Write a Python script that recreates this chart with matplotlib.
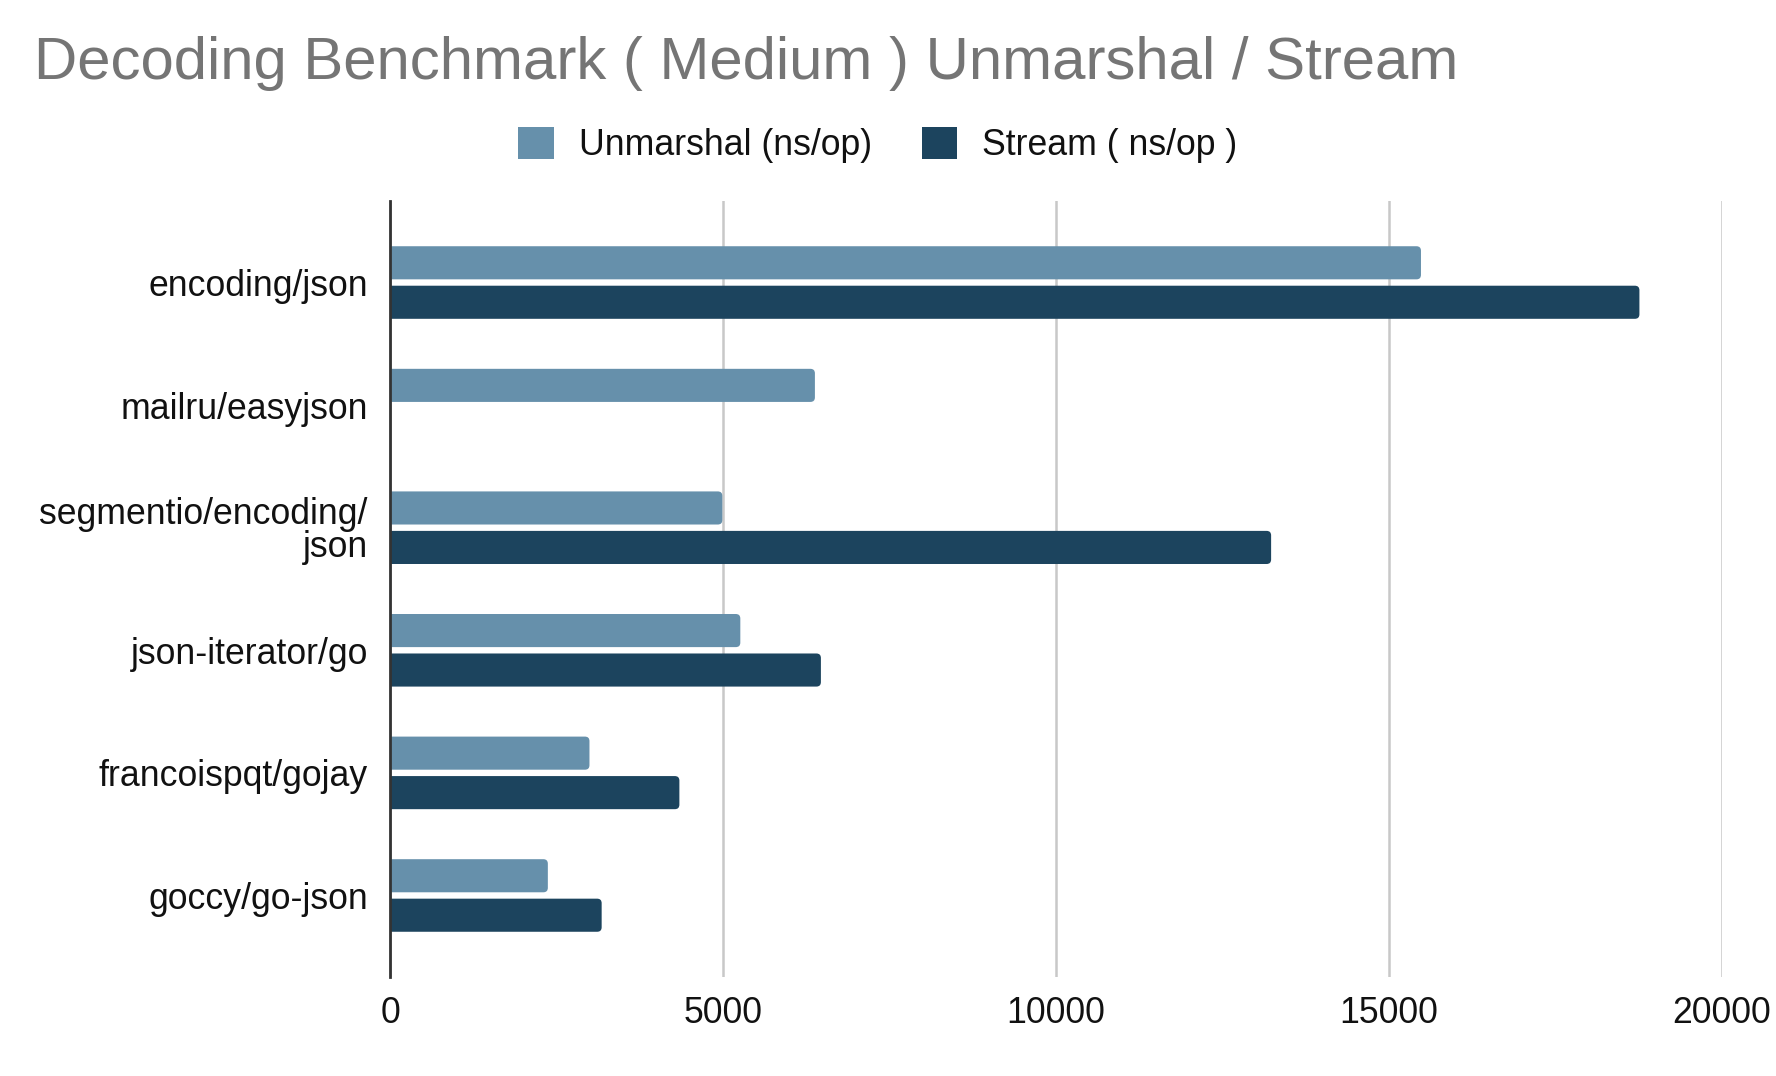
import matplotlib
matplotlib.use("Agg")
import matplotlib.pyplot as plt
from matplotlib.patches import FancyBboxPatch, Patch
import numpy as np

plt.rcParams['font.family'] = ['Liberation Sans', 'DejaVu Sans']

libraries = ['encoding/json', 'mailru/easyjson', 'segmentio/encoding/\njson',
             'json-iterator/go', 'francoispqt/gojay', 'goccy/go-json']
unmarshal_ns = [15480, 6380, 4990, 5260, 2995, 2370]
stream_ns = [18760, 0, 13230, 6470, 4345, 3178]
xticks = [0, 5000, 10000, 15000, 20000]

LIGHT = '#6690ab'
DARK = '#1c445e'

fig = plt.figure(figsize=(17.76, 10.76), dpi=100)
ax = fig.add_axes([390 / 1776, 1 - 977 / 1076, 1332 / 1776, 776 / 1076])

y = np.arange(len(libraries))
bh = 0.27
off = 0.161
bars_u = ax.barh(y - off, unmarshal_ns, height=bh, color=LIGHT)
bars_s = ax.barh(y + off, stream_ns, height=bh, color=DARK)

ax.set_xlim(0, 20000)
ax.set_ylim(len(libraries) - 1 + 0.665, -0.665)

# swap plain bars for rounded ones (radius in pixels -> data units)
px_x = 20000 / 1332
px_y = (len(libraries) - 1 + 1.33) / 776
rs = 4.5 * px_x
for bars in (bars_u, bars_s):
    for b in bars:
        w = b.get_width()
        b.set_visible(False)
        if w <= 0:
            continue
        p = FancyBboxPatch((b.get_x() - 3 * rs, b.get_y()), w + 3 * rs, b.get_height(),
                           boxstyle=f"round,pad=0,rounding_size={rs}",
                           mutation_aspect=px_y / px_x,
                           facecolor=b.get_facecolor(), edgecolor='none', zorder=2)
        ax.add_patch(p)

ax.set_yticks(y)
ax.set_yticklabels(libraries, linespacing=0.92)
ax.set_xticks(xticks)
ax.set_xticklabels([str(t) for t in xticks])
ax.tick_params(axis='both', length=0, labelsize=25.7, labelcolor='#111111')
ax.tick_params(axis='y', pad=16)
ax.tick_params(axis='x', pad=14)

ax.grid(axis='x', color='#c8c8c8', linewidth=1.8)
ax.set_axisbelow(True)
for s in ['top', 'right', 'bottom']:
    ax.spines[s].set_visible(False)
ax.spines['left'].set_color('#333333')
ax.spines['left'].set_linewidth(2.0)
ax.spines['left'].set_zorder(3)

fig.text(34 / 1776, 1 - 79 / 1076, 'Decoding Benchmark ( Medium ) Unmarshal / Stream',
         fontsize=43.2, color='#757575', va='baseline', ha='left')

handles = [Patch(facecolor=LIGHT, label='Unmarshal (ns/op)'),
           Patch(facecolor=DARK, label='Stream ( ns/op )')]
fig.legend(handles=handles, loc='center', bbox_to_anchor=(0.4943, 1 - 145 / 1076),
           ncol=2, frameon=False, fontsize=25.7, handlelength=1.0, handleheight=1.0,
           handletextpad=0.7, columnspacing=1.4, labelcolor='#111111')

fig.savefig('out.png', dpi=100)
